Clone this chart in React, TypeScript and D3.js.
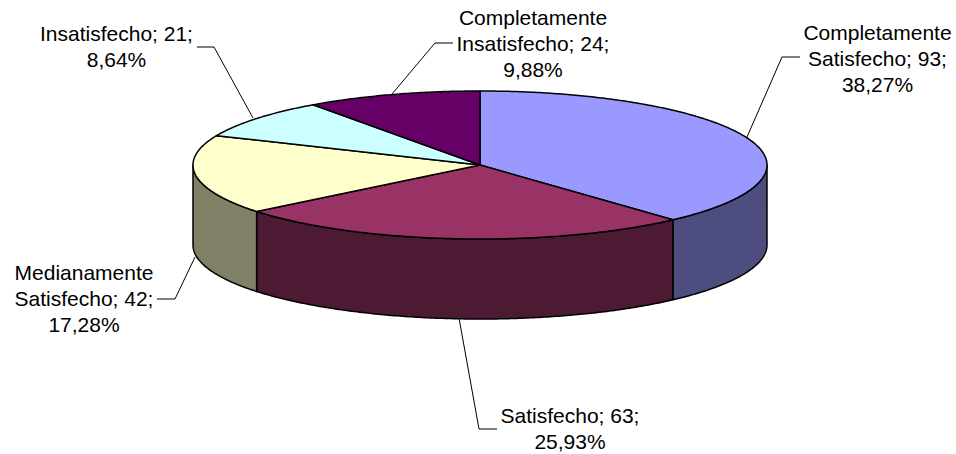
import * as d3 from 'd3';

// values
const categories = ['Completamente Satisfecho', 'Satisfecho', 'Medianamente Satisfecho', 'Insatisfecho', 'Completamente Insatisfecho'];
const values = [93, 63, 42, 21, 24];
const topColors = ['#9999FF', '#993366', '#FFFFCC', '#CCFFFF', '#660066'];
const sideColors = ['#4D4D80', '#4D1A33', '#808066', '#668080', '#330033'];

const labelLines = [
    ['Completamente', 'Satisfecho; 93;', '38,27%'],
    ['Satisfecho; 63;', '25,93%'],
    ['Medianamente', 'Satisfecho; 42;', '17,28%'],
    ['Insatisfecho; 21;', '8,64%'],
    ['Completamente', 'Insatisfecho; 24;', '9,88%'],
];
// x = centre of the label, y = baseline of its first line
const labelAnchors = [
    { x: 877.5, y: 39.5 },
    { x: 570, y: 423 },
    { x: 84, y: 279.5 },
    { x: 116.5, y: 41 },
    { x: 533, y: 25 },
];
const leaders = [
    [[800, 57], [782, 57], [747, 137]],
    [[497, 429], [479, 429], [459, 318]],
    [[157, 299], [175, 299], [195, 257]],
    [[197, 47], [214, 47], [253, 118]],
    [[453, 43], [435, 43], [392, 94]],
];

const width = 956;
const height = 454;
const depth = 80;
const lineHeight = 26;

const x = d3.scaleLinear().domain([-1, 1]).range([193, 767]);
const y = d3.scaleLinear().domain([-1, 1]).range([91, 239]);

const pie = d3.pie<number>().sort(null);
const slices = pie(values);

const line = d3.line<number[]>().x(d => d[0]).y(d => d[1]);

function rim(a0: number, a1: number, dy = 0) {
    const steps = Math.max(2, Math.ceil((a1 - a0) / 0.01));
    return d3.range(steps + 1).map(i => {
        const a = a0 + ((a1 - a0) * i) / steps;
        return [x(Math.sin(a)), y(-Math.cos(a)) + dy];
    });
}

function topPath(a0: number, a1: number) {
    return line([[x(0), y(0)], ...rim(a0, a1)]) + 'Z';
}

function sidePath(a0: number, a1: number) {
    return line([...rim(a0, a1), ...rim(a0, a1, depth).reverse()]) + 'Z';
}

export default function App() {
    const front = slices
        .map((s, i) => ({ i, a0: Math.max(s.startAngle, Math.PI / 2), a1: Math.min(s.endAngle, (3 * Math.PI) / 2) }))
        .filter(d => d.a1 > d.a0);

    return (
        <svg
            width={width}
            height={height}
            style={{ position: 'absolute', left: 0, top: 0, background: '#fff' }}
            fontFamily="'Liberation Sans', Arial, sans-serif"
            fontSize={21}
        >
            {front.map(d => (
                <path key={d.i} d={sidePath(d.a0, d.a1) ?? ''} fill={sideColors[d.i]} stroke="#000" strokeWidth={1.5} strokeLinejoin="round" />
            ))}
            {slices.map((s, i) => (
                <path key={categories[i]} d={topPath(s.startAngle, s.endAngle) ?? ''} fill={topColors[i]} stroke="#000" strokeWidth={1.5} strokeLinejoin="round" />
            ))}
            {leaders.map((pts, i) => (
                <path key={i} d={line(pts) ?? ''} fill="none" stroke="#000" strokeWidth={1} />
            ))}
            {labelLines.map((lines, i) => (
                <text key={i} textAnchor="middle" fill="#000">
                    {lines.map((t, j) => (
                        <tspan key={j} x={labelAnchors[i].x} y={labelAnchors[i].y + j * lineHeight}>
                            {t}
                        </tspan>
                    ))}
                </text>
            ))}
        </svg>
    );
}
